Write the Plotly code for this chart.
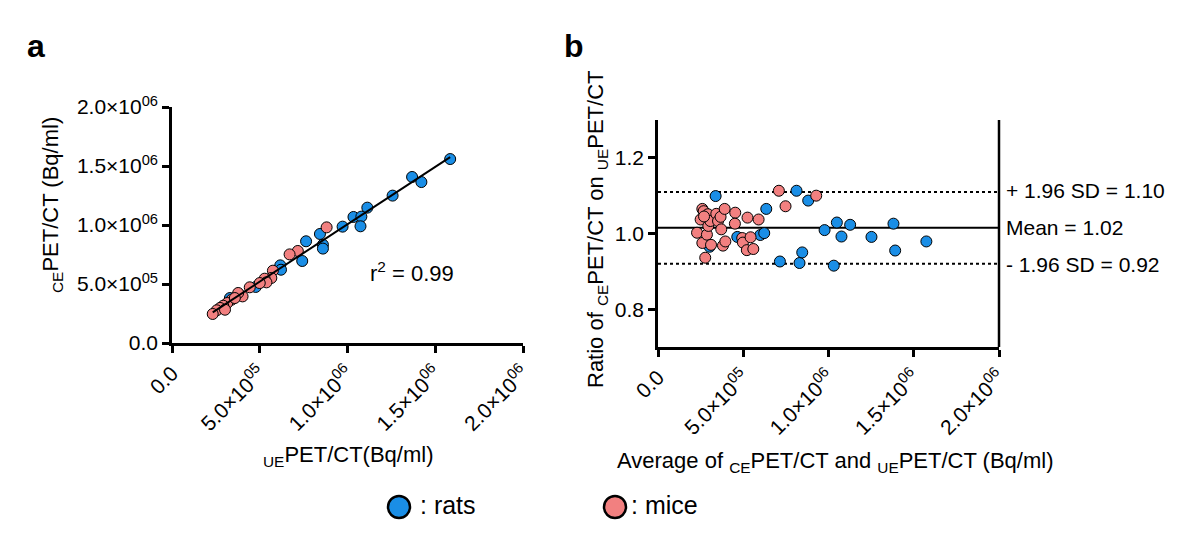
import numpy as np
import plotly.graph_objects as go

W, H = 1200, 539
OFF = 8  # page body margin in the browser

# ---------------- data: panel a (UE vs CE, Bq/ml) ----------------
rats_ue = [1.585e6, 1.368e6, 1.421e6, 1.257e6, 1.113e6, 1.034e6, 1.079e6, 1.074e6, 0.972e6,
           0.843e6, 0.860e6, 0.860e6, 0.764e6, 0.742e6, 0.617e6, 0.621e6, 0.477e6, 0.330e6]
rats_ce = [1.559e6, 1.407e6, 1.364e6, 1.249e6, 1.147e6, 1.068e6, 1.071e6, 0.989e6, 0.986e6,
           0.924e6, 0.833e6, 0.800e6, 0.862e6, 0.695e6, 0.658e6, 0.621e6, 0.475e6, 0.381e6]
mice_ue = [0.881e6, 0.717e6, 0.670e6, 0.575e6, 0.566e6, 0.528e6, 0.538e6, 0.500e6, 0.443e6,
           0.402e6, 0.377e6, 0.340e6, 0.315e6, 0.292e6, 0.274e6, 0.255e6, 0.232e6, 0.302e6, 0.358e6]
mice_ce = [0.980e6, 0.780e6, 0.751e6, 0.613e6, 0.551e6, 0.545e6, 0.514e6, 0.508e6, 0.472e6,
           0.395e6, 0.424e6, 0.367e6, 0.339e6, 0.316e6, 0.297e6, 0.277e6, 0.246e6, 0.282e6, 0.381e6]
r2_text = "r<sup>2</sup> = 0.99"

# ---------------- data: panel b (Bland-Altman style) ----------------
rats_avg = [0.338e6, 0.303e6, 0.465e6, 0.600e6, 0.623e6, 0.635e6, 0.715e6, 0.8125e6, 0.830e6,
            0.846e6, 0.881e6, 0.977e6, 1.031e6, 1.049e6, 1.076e6, 1.127e6, 1.252e6, 1.381e6,
            1.391e6, 1.574e6]
rats_ratio = [1.099, 0.965, 0.991, 0.996, 1.001, 1.065, 0.926, 1.113, 0.922,
              0.950, 1.087, 1.009, 0.915, 1.029, 0.992, 1.023, 0.991, 1.026,
              0.955, 0.979]
mice_avg = [0.229e6, 0.260e6, 0.268e6, 0.250e6, 0.260e6, 0.277e6, 0.293e6, 0.287e6, 0.295e6,
            0.311e6, 0.307e6, 0.342e6, 0.352e6, 0.367e6, 0.371e6, 0.381e6, 0.395e6, 0.391e6,
            0.453e6, 0.451e6, 0.494e6, 0.498e6, 0.525e6, 0.521e6, 0.543e6, 0.559e6, 0.590e6,
            0.709e6, 0.748e6, 0.928e6, 0.270e6]
mice_ratio = [1.002, 1.065, 1.059, 1.037, 0.975, 0.936, 1.051, 0.997, 1.020,
              0.970, 1.033, 1.052, 1.033, 1.044, 1.011, 0.968, 0.979, 1.065,
              1.055, 1.026, 0.988, 0.976, 1.042, 0.956, 0.990, 0.959, 1.037,
              1.113, 1.072, 1.100, 1.045]
mean_ratio = 1.015
upper_loa = 1.11
lower_loa = 0.92
loa_labels = ["+ 1.96 SD = 1.10", "Mean = 1.02", "- 1.96 SD = 0.92"]

# ---------------- tick labels ----------------
big_tickvals = [0, 5e5, 1e6, 1.5e6, 2e6]
big_ticktext = ["0.0", "5.0×10<sup>05</sup>", "1.0×10<sup>06</sup>",
                "1.5×10<sup>06</sup>", "2.0×10<sup>06</sup>"]
ratio_tickvals = [0.8, 1.0, 1.2]
ratio_ticktext = ["0.8", "1.0", "1.2"]

BLUE = "#1a8ee6"
PINK = "#f28080"
FONT = "Liberation Sans, Arial, sans-serif"


def px(x):
    return (x - OFF) / W


def py(y):
    return 1 - (y - OFF) / H


fig = go.Figure()

mk = lambda c: dict(color=c, size=11, line=dict(color="black", width=1))

# panel a
fig.add_trace(go.Scatter(x=rats_ue, y=rats_ce, mode="markers", marker=mk(BLUE),
                         xaxis="x", yaxis="y", cliponaxis=False))
fig.add_trace(go.Scatter(x=mice_ue, y=mice_ce, mode="markers", marker=mk(PINK),
                         xaxis="x", yaxis="y", cliponaxis=False))
all_x = np.array(rats_ue + mice_ue)
all_y = np.array(rats_ce + mice_ce)
slope, icpt = np.polyfit(all_x, all_y, 1)
fx = np.array([all_x.min(), all_x.max()])
fig.add_trace(go.Scatter(x=fx, y=slope * fx + icpt, mode="lines",
                         line=dict(color="black", width=2), xaxis="x", yaxis="y"))

# panel b lines
for val, dash in [(upper_loa, "3px,3px"), (mean_ratio, "solid"), (lower_loa, "3px,3px")]:
    fig.add_trace(go.Scatter(x=[0, 2e6], y=[val, val], mode="lines",
                             line=dict(color="black", width=2, dash=dash),
                             xaxis="x2", yaxis="y2"))
fig.add_trace(go.Scatter(x=rats_avg, y=rats_ratio, mode="markers", marker=mk(BLUE),
                         xaxis="x2", yaxis="y2"))
fig.add_trace(go.Scatter(x=mice_avg, y=mice_ratio, mode="markers", marker=mk(PINK),
                         xaxis="x2", yaxis="y2"))

axis_common = dict(showline=True, linecolor="black", linewidth=2.5, ticks="outside",
                   ticklen=7, tickwidth=2.5, tickcolor="black", showgrid=False,
                   zeroline=False, automargin=False,
                   tickfont=dict(size=21, color="black", family=FONT))

fig.update_layout(
    width=W, height=H, margin=dict(l=0, r=0, t=0, b=0, autoexpand=False),
    paper_bgcolor="white", plot_bgcolor="white", showlegend=False,
    font=dict(family=FONT, color="black"),
    xaxis=dict(domain=[px(172), px(523)], range=[0, 2e6], tickvals=big_tickvals,
               ticktext=big_ticktext, tickangle=-45, anchor="y", **axis_common),
    yaxis=dict(domain=[py(343), py(107)], range=[0, 2e6], tickvals=big_tickvals,
               ticktext=big_ticktext, anchor="x", **axis_common),
    xaxis2=dict(domain=[px(658), px(999)], range=[0, 2e6], tickvals=big_tickvals,
                ticktext=big_ticktext, tickangle=-45, anchor="y2", **axis_common),
    yaxis2=dict(domain=[py(347), py(120)], range=[0.7, 1.3], tickvals=ratio_tickvals,
                ticktext=ratio_ticktext, anchor="x2", **axis_common),
)

# right border line of panel b
fig.add_shape(type="line", xref="x2 domain", yref="y2 domain", x0=1, x1=1, y0=0, y1=1,
              line=dict(color="black", width=2.5))

ann = []
ann.append(dict(x=px(36), y=py(46), text="<b>a</b>", font=dict(size=32)))
ann.append(dict(x=px(574), y=py(46), text="<b>b</b>", font=dict(size=32)))
ann.append(dict(x=px(52), y=py(205), text="<sub>CE</sub>PET/CT (Bq/ml)", textangle=-90,
                font=dict(size=22)))
ann.append(dict(x=px(348), y=py(456), text="<sub>UE</sub>PET/CT(Bq/ml)", font=dict(size=22)))
ann.append(dict(x=px(412), y=py(272), text=r2_text, font=dict(size=22)))
ann.append(dict(x=px(597), y=py(230), text="Ratio of <sub>CE</sub>PET/CT on <sub>UE</sub>PET/CT",
                textangle=-90, font=dict(size=22)))
ann.append(dict(x=px(835), y=py(462),
                text="Average of <sub>CE</sub>PET/CT and <sub>UE</sub>PET/CT (Bq/ml)",
                font=dict(size=22)))
for lab, yy in zip(loa_labels, [190, 227, 264]):
    ann.append(dict(x=px(1004), y=py(yy), text=lab, xanchor="left", font=dict(size=21)))
ann.append(dict(x=px(418), y=py(505), text=": rats", xanchor="left", font=dict(size=25)))
ann.append(dict(x=px(629), y=py(505), text=": mice", xanchor="left", font=dict(size=25)))
for a in ann:
    a.setdefault("xref", "paper")
    a.setdefault("yref", "paper")
    a.setdefault("xanchor", "center")
    a.setdefault("yanchor", "middle")
    a.setdefault("showarrow", False)
    a["font"].setdefault("family", FONT)
    a["font"].setdefault("color", "black")
fig.update_layout(annotations=ann)

# legend circles
for cx, col in [(399, BLUE), (615, PINK)]:
    fig.add_shape(type="circle", xref="paper", yref="paper",
                  x0=px(cx - 11), x1=px(cx + 11), y0=py(518), y1=py(496),
                  fillcolor=col, line=dict(color="black", width=2.5))

fig.write_html("out.html")
